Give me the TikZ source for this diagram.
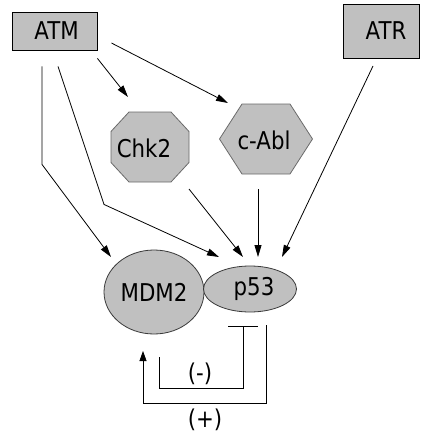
\documentclass[tikz,border=0pt]{standalone}
\usepackage{fontspec}
\setmainfont{DejaVu Sans}[FakeStretch=0.87]
\usetikzlibrary{arrows.meta,shapes.geometric}
\definecolor{boxgray}{HTML}{C0C0C0}
\definecolor{ovalline}{HTML}{3A3A3A}
\definecolor{polyline}{HTML}{6A6A6A}
\tikzset{
  box/.style={draw=black, fill=boxgray, line width=0.9pt, inner sep=0pt},
  oval/.style={ellipse, draw=ovalline, fill=boxgray, line width=0.8pt, inner sep=0pt},
  poly/.style={draw=polyline, fill=boxgray, line width=0.8pt},
  lbl/.style={font=\fontsize{24.5}{26}\selectfont, inner sep=0pt},
  arr/.style={-{Triangle[length=12pt,width=7pt]}, line width=0.8pt},
  sarr/.style={-{Triangle[length=10pt,width=7pt]}, line width=0.8pt},
  inh/.style={-{Bar[width=30pt]}, line width=0.8pt},
}
\begin{document}
\begin{tikzpicture}[x=1pt,y=-1pt]
\useasboundingbox (0,0) rectangle (435,447);
% boxes
\node[box, lbl, minimum width=85pt, minimum height=38pt] (atm) at (54.5,31) {\hspace*{4pt}ATM};
\node[box, lbl, minimum width=76pt, minimum height=54pt] (atr) at (381,31) {\hspace*{10pt}ATR};
% octagon Chk2
\coordinate (chk2c) at (150,147);
\draw[poly] (chk2c) ++(-21,-35) -- ++(42,0) -- ++(18,19.5) -- ++(0,31) -- ++(-18,19.5) -- ++(-42,0) -- ++(-18,-19.5) -- ++(0,-31) -- cycle;
\node[lbl] (chk2) at ([shift={(-6,1)}]chk2c) {Chk2};
% hexagon c-Abl
\coordinate (cablc) at (266,139);
\draw[poly] (cablc) ++(-24,-35) -- ++(48,0) -- ++(22.5,35) -- ++(-22.5,35) -- ++(-48,0) -- ++(-22.5,-35) -- cycle;
\node[lbl] (cabl) at ([shift={(-2,1)}]cablc) {c-Abl};
% ellipses
\node[oval, lbl, minimum width=100pt, minimum height=84pt] (mdm2) at (154,292) {MDM2};
\node[oval, lbl, minimum width=93pt, minimum height=46pt] (p53) at (250,289) {\hspace*{8pt}p53};
% connectors
\draw[arr] ([shift={(0,8)}]atm.south east) -- ([shift={(-22,-50)}]chk2c);
\draw[arr] ([shift={(14,12)}]atm.east) -- ([shift={(-38,-36)}]cablc);
\draw[arr] ([shift={(-12.5,16)}]atm.south) -- ++(0,98) -- ([shift={(-43,-35)}]mdm2.center);
\draw[arr] ([shift={(3.5,16)}]atm.south) -- ++(46,138) -- ([shift={(-31,-32)}]p53.center);
\draw[arr] ([shift={(39,42)}]chk2c) -- ([shift={(-7,-32)}]p53.center);
\draw[arr] ([shift={(-8,50)}]cablc) -- ([shift={(8,-32)}]p53.center);
\draw[arr] ([shift={(-8,35)}]atr.center) -- ([shift={(32,-32)}]p53.center);
% feedback loops
\draw[inh] ([shift={(5,65)}]mdm2.center) |- ([shift={(-7,99)}]p53.center) -- ([shift={(-7,37)}]p53.center);
\draw[sarr] ([shift={(16,36)}]p53.center) |- ([shift={(-11,111)}]mdm2.center) -- ([shift={(-11,59)}]mdm2.center);
\node[lbl] (minus) at (200,374) {(-)};
\node[lbl] (plus) at (205,420) {(+)};
\end{tikzpicture}
\end{document}
